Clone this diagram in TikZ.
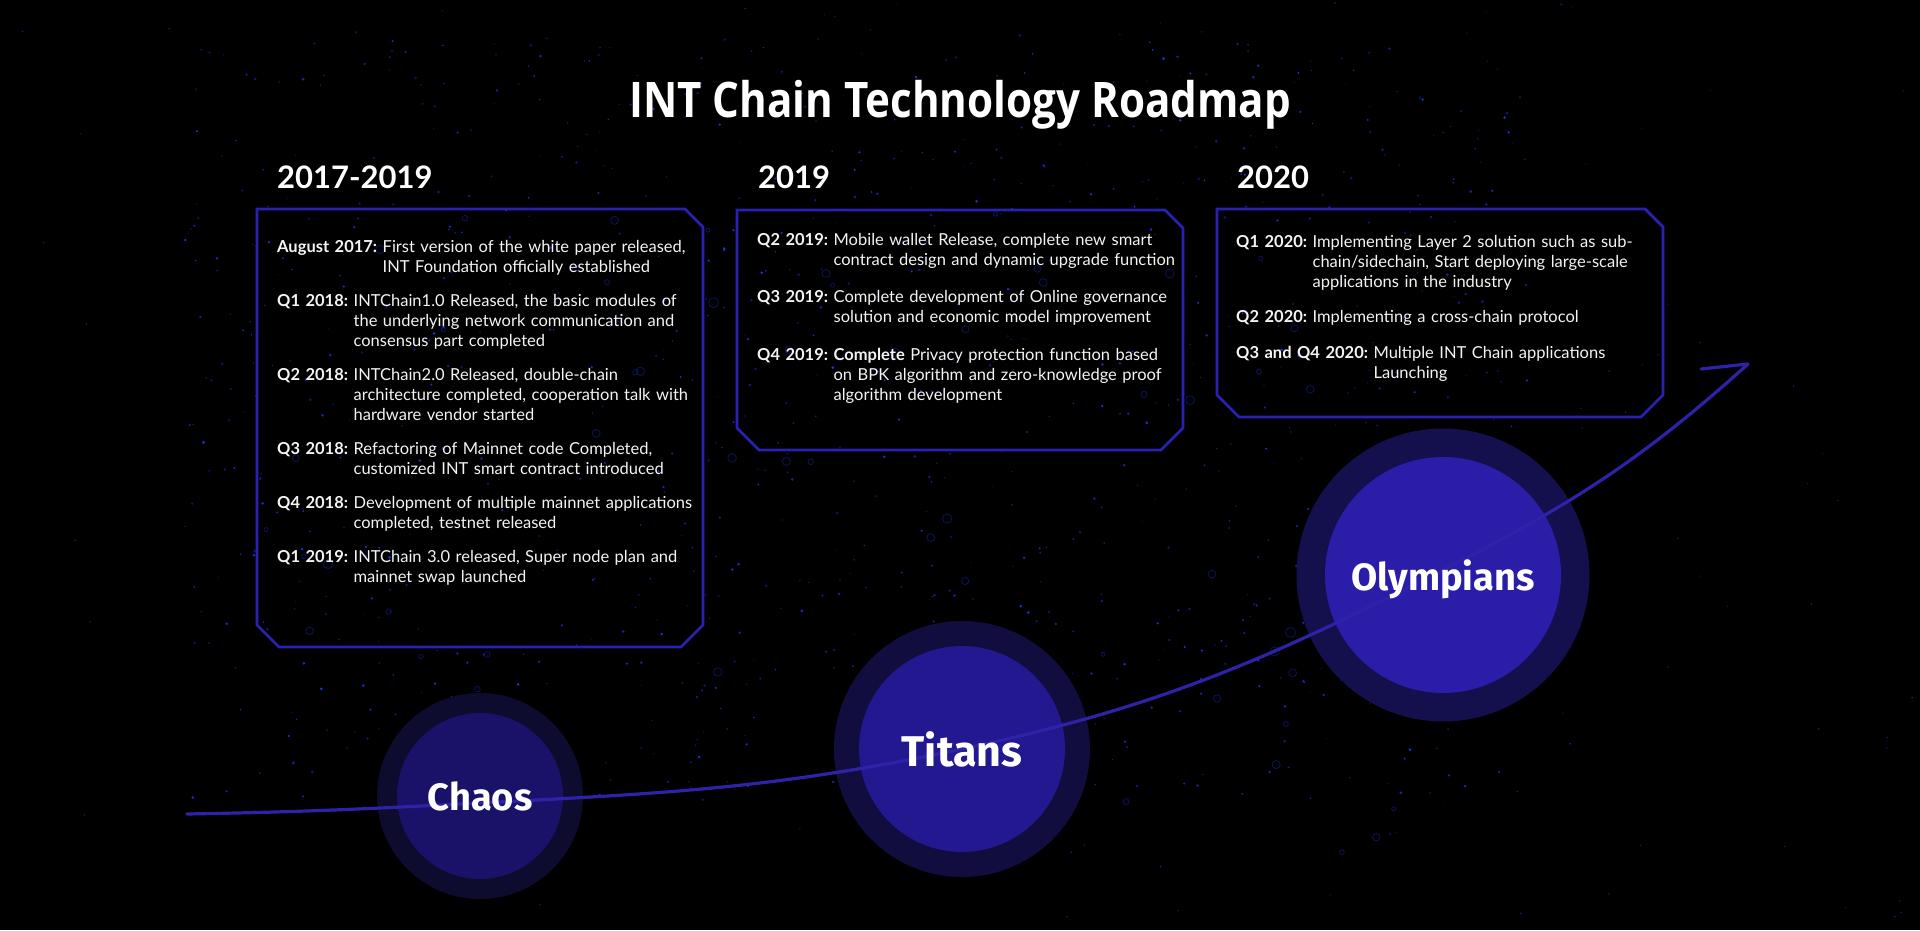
\documentclass[tikz,border=0pt]{standalone}
\usepackage{fontspec}
\setmainfont{Lato}
\newfontfamily\stagefont{Fira Sans}
\newfontfamily\titlefont[FakeStretch=0.86]{Open Sans}
\usetikzlibrary{positioning}
\definecolor{night}{HTML}{000000}
\definecolor{frameB}{HTML}{2A20B2}
\definecolor{pathB}{HTML}{2D22A8}
\definecolor{chaosO}{HTML}{0D0B2E}
\definecolor{chaosI}{HTML}{1A1268}
\definecolor{titanO}{HTML}{110D3F}
\definecolor{titanI}{HTML}{22188F}
\definecolor{olympO}{HTML}{140F4D}
\definecolor{olympI}{HTML}{2A1DA8}
\definecolor{speck}{HTML}{1E3CFF}
\definecolor{paper}{HTML}{F4F4F4}
\tikzset{
  title/.style={font=\titlefont\bfseries\fontsize{49}{55}\selectfont, text=white, inner sep=0pt},
  yearlabel/.style={font=\bfseries\fontsize{31}{36}\selectfont, text=white, inner sep=0pt},
  framebox/.style={inner sep=0pt, outer sep=0pt, minimum width=446pt},
  frame/.style={draw=frameB, line width=2.8pt, line join=miter},
  listtext/.style={font=\fontsize{16.5}{20}\selectfont, text=paper, text width=440pt, align=left,
    inner sep=0pt, anchor=north west, execute at begin node={\setlength{\parskip}{#1}}},
  ring/.style={circle, inner sep=0pt},
  stage/.style={font=\stagefont\bfseries\fontsize{#1}{#1}\selectfont, text=white, text depth=0pt, inner sep=0pt},
  roadline/.style={draw=pathB, line width=3.2pt, line cap=round}
}
% one dated entry, later lines hang under the text
\newcommand{\milestone}[2]{%
  \begingroup\let\\\newline
  \setbox0=\hbox{\bfseries #1\ }%
  \hangindent=\wd0 \hangafter=1
  \noindent\strut\box0 #2\par\endgroup}
% outline with three cut corners round a frame node
\newcommand{\cutframe}[1]{%
  \draw[frame] (#1.north west) -- ([xshift=-18pt]#1.north east) -- ([yshift=-18pt]#1.north east)
    -- ([yshift=22pt]#1.south east) -- ([xshift=-22pt]#1.south east)
    -- ([xshift=22pt]#1.south west) -- ([yshift=22pt]#1.south west) -- cycle;}

\begin{document}
\begin{tikzpicture}[x=1pt,y=1pt]
\useasboundingbox (0,0) rectangle (1920,930);
\fill[night] (0,0) rectangle (1920,930);

% specks
\pgfmathsetseed{12}
\foreach \i in {1,...,900}{
  \pgfmathsetmacro\sx{180+rnd*1350}
  \pgfmathsetmacro\sy{120+rnd*780}
  \pgfmathsetmacro\sr{0.5+rnd*1.0}
  \pgfmathsetmacro\so{0.3+rnd*0.6}
  \fill[speck, fill opacity=\so] (\sx,\sy) circle (\sr);
}
\foreach \i in {1,...,60}{
  \pgfmathsetmacro\sx{250+rnd*1200}
  \pgfmathsetmacro\sy{60+rnd*700}
  \pgfmathsetmacro\sr{2+rnd*3}
  \draw[speck, draw opacity=0.35, line width=0.8pt] (\sx,\sy) circle (\sr);
}
\foreach \i in {1,...,160}{
  \pgfmathsetmacro\sx{rnd*1920}
  \pgfmathsetmacro\sy{rnd*930}
  \pgfmathsetmacro\so{0.3+rnd*0.5}
  \fill[speck, fill opacity=\so] (\sx,\sy) circle (0.8);
}

\node[title, anchor=base] (head) at (960,812) {INT Chain Technology Roadmap};

% 2017-2019
\node[framebox, minimum height=438pt, anchor=north west] (boxA) at (257,721) {};
\cutframe{boxA}
\node[yearlabel, anchor=base west] (yearA) at ([shift={(20,20)}]boxA.north west) {2017-2019};
\node[listtext=14pt, below right=29pt and 20pt of boxA.north west] (listA) {
\milestone{August 2017:}{First version of the white paper released,\\INT Foundation officially established}
\milestone{Q1 2018:}{INTChain1.0 Released, the basic modules of\\the underlying network communication and\\consensus part completed}
\milestone{Q2 2018:}{INTChain2.0 Released, double-chain\\architecture completed, cooperation talk with\\hardware vendor started}
\milestone{Q3 2018:}{Refactoring of Mainnet code Completed,\\customized INT smart contract introduced}
\milestone{Q4 2018:}{Development of multiple mainnet applications\\completed, testnet released}
\milestone{Q1 2019:}{INTChain 3.0 released, Super node plan and\\mainnet swap launched}
};

% 2019
\node[framebox, minimum height=240pt, anchor=north west] (boxB) at (737,720) {};
\cutframe{boxB}
\node[yearlabel, anchor=base west] (yearB) at ([shift={(21,21)}]boxB.north west) {2019};
\node[listtext=17.5pt, below right=21pt and 20pt of boxB.north west] (listB) {
\milestone{Q2 2019:}{Mobile wallet Release, complete new smart\\contract design and dynamic upgrade function}
\milestone{Q3 2019:}{Complete development of Online governance\\solution and economic model improvement}
\milestone{Q4 2019:}{\textbf{Complete} Privacy protection function based\\on BPK algorithm and zero-knowledge proof\\algorithm development}
};

% 2020
\node[framebox, minimum height=208pt, anchor=north west] (boxC) at (1217,721) {};
\cutframe{boxC}
\node[yearlabel, anchor=base west] (yearC) at ([shift={(20,20)}]boxC.north west) {2020};
\node[listtext=15.5pt, below right=24pt and 19pt of boxC.north west] (listC) {
\milestone{Q1 2020:}{Implementing Layer 2 solution such as sub-\\chain/sidechain, Start deploying large-scale\\applications in the industry}
\milestone{Q2 2020:}{Implementing a cross-chain protocol}
\milestone{Q3 and Q4 2020:}{Multiple INT Chain applications\\Launching}
};

% stages
\node[ring, fill=chaosO, minimum size=206pt] (chaosRing) at (480,134) {};
\node[ring, fill=chaosI, minimum size=166pt] (chaos) at (chaosRing) {};
\node[ring, fill=titanO, minimum size=256pt] (titansRing) at (962,181) {};
\node[ring, fill=titanI, minimum size=206pt] (titans) at (titansRing) {};
\node[ring, fill=olympO, minimum size=293pt] (olympiansRing) at (1443,355) {};
\node[ring, fill=olympI, minimum size=236pt] (olympians) at (olympiansRing) {};

\coordinate (start) at (187,116);
\coordinate (tip) at (1748,566);
\draw[roadline] (start) to[out=1,in=183] ([yshift=-7pt]chaos.center)
  to[out=3,in=192] (titans.center)
  to[out=12,in=207] ([yshift=5pt]olympians.center)
  to[out=27,in=222] (tip);
\draw[roadline] (tip) -- ++(-47,-5);

\node[stage=38] (chaosText) at (chaos) {Chaos};
\node[stage=43] (titansText) at (titans) {Titans};
\node[stage=38] (olympiansText) at (olympians) {Olympians};

\end{tikzpicture}
\end{document}
